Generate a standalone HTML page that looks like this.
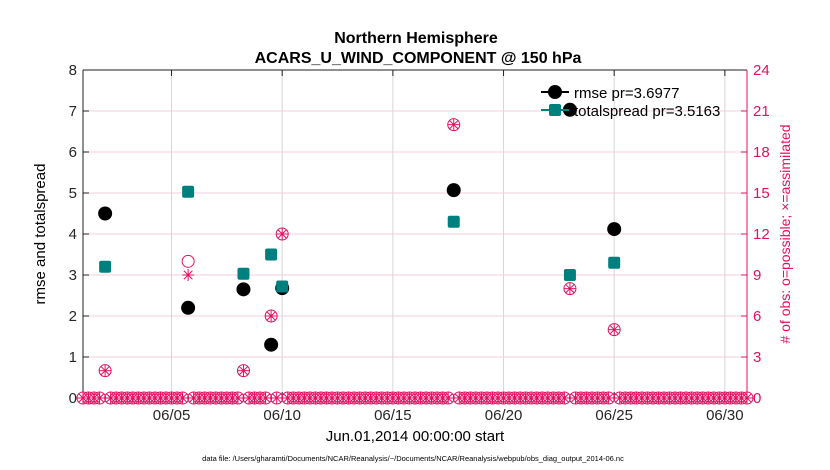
<!DOCTYPE html>
<html><head><meta charset="utf-8"><style>
html,body{margin:0;padding:0;background:#fff;}
svg{display:block;font-family:"Liberation Sans",Arial,sans-serif;}
</style></head><body>
<svg id="chart" width="830" height="470" xmlns="http://www.w3.org/2000/svg">
<rect width="830" height="470" fill="#fff"/>
<text x="416" y="43" text-anchor="middle" font-size="16" font-weight="bold">Northern Hemisphere</text>
<text x="418" y="63" text-anchor="middle" font-size="16" font-weight="bold">ACARS_U_WIND_COMPONENT @ 150 hPa</text>
<text x="415" y="441" text-anchor="middle" font-size="15">Jun.01,2014 00:00:00 start</text>
<text x="413" y="461" text-anchor="middle" font-size="7.5">data file: /Users/gharamti/Documents/NCAR/Reanalysis/~/Documents/NCAR/Reanalysis/webpub/obs_diag_output_2014-06.nc</text>
<text transform="translate(45,234) rotate(-90)" text-anchor="middle" font-size="15">rmse and totalspread</text>
<text transform="translate(790,234) rotate(-90)" text-anchor="middle" font-size="14" fill="#e0115f"># of obs: o=possible; ×=assimilated</text>
<g id="grid"></g><g id="axes"></g><g id="marks"></g><g id="legend"></g>
</svg>
<script>
const xTickDays=[4,9,14,19,24,29];
const xTickLabels=["06/05","06/10","06/15","06/20","06/25","06/30"];
const yLeftTicks=[0,1,2,3,4,5,6,7,8];
const yRightTicks=[0,3,6,9,12,15,18,21,24];
const days=[1.0,4.75,7.25,8.5,9.0,16.75,22.0,24.0];
const rmse=[4.5,2.2,2.65,1.3,2.68,5.07,7.03,4.12];
const spread=[3.2,5.03,3.03,3.5,2.72,4.3,3.0,3.3];
const nPossible=[2,10,2,6,12,20,8,5];
const nAssim=[2,9,2,6,12,20,8,5];
const stepDays=0.25;

const NS="http://www.w3.org/2000/svg";
const L=83,R=747,T=70,B=398;
const xs=d=>L+(R-L)*d/30;
const yl=v=>B-(B-T)*v/8;
const yr=v=>B-(B-T)*v/24;
function el(p,tag,a){const e=document.createElementNS(NS,tag);for(const k in a)e.setAttribute(k,a[k]);p.appendChild(e);return e;}
const grid=document.getElementById('grid'),axes=document.getElementById('axes'),marks=document.getElementById('marks'),leg=document.getElementById('legend');

xTickDays.forEach((d,i)=>{
  const g=el(grid,'line',{x1:xs(d),x2:xs(d),y1:T,y2:B,stroke:'#d6d6d6','stroke-width':1});
  
  
  const tk=el(axes,'line',{x1:xs(d),x2:xs(d),y1:B,y2:B-6,stroke:'#222'});
  
  
  const tk2=el(axes,'line',{x1:xs(d),x2:xs(d),y1:T,y2:T+6,stroke:'#222'});
  
  
  const t=el(axes,'text',{x:xs(d),y:B+22,'text-anchor':'middle','font-size':15,fill:'#262626'});
  t.textContent=xTickLabels[i];
  
  
});
yLeftTicks.forEach(v=>{
  if(v>0&&v<8){const g=el(grid,'line',{x1:L,x2:R,y1:yl(v),y2:yl(v),stroke:'#f5cddd','stroke-width':1});
  
  }
  const tk=el(axes,'line',{x1:L,x2:L+6,y1:yl(v),y2:yl(v),stroke:'#222'});
  
  
  const t=el(axes,'text',{x:L-6,y:yl(v)+5,'text-anchor':'end','font-size':15,fill:'#262626'});
  t.textContent=v;
  
  
});
yRightTicks.forEach(v=>{
  const tk=el(axes,'line',{x1:R,x2:R-6,y1:yr(v),y2:yr(v),stroke:'#e0115f'});
  
  
  const t=el(axes,'text',{x:R+6,y:yr(v)+5,'font-size':15,fill:'#e0115f'});
  t.textContent=v;
  
  
});
const la=el(axes,'line',{x1:L,x2:L,y1:T,y2:B,stroke:'#222'});


const ta=el(axes,'line',{x1:L,x2:R,y1:T,y2:T,stroke:'#222'});


const ra=el(axes,'line',{x1:R,x2:R,y1:T,y2:B,stroke:'#e0115f'});


const ba=el(axes,'line',{x1:L,x2:R,y1:B,y2:B,stroke:'#222'});



function obsCircle(x,y,name){const c=el(marks,'circle',{cx:x,cy:y,r:6,fill:'none',stroke:'#e0115f','stroke-width':1});}
function obsStar(x,y,name){const g=el(marks,'g',{stroke:'#e0115f','stroke-width':1});
  for(let a=0;a<4;a++){const an=a*Math.PI/4;el(g,'line',{x1:x-6*Math.cos(an),y1:y-6*Math.sin(an),x2:x+6*Math.cos(an),y2:y+6*Math.sin(an)});}}
for(let d=0;d<=30+1e-9;d+=stepDays){
  if(days.some(t=>Math.abs(t-d)<1e-6))continue;
  obsCircle(xs(d),yr(0),'obs-possible-zero');
  obsStar(xs(d),yr(0),'obs-assimilated-zero');
}
days.forEach((d,i)=>{
  obsCircle(xs(d),yr(nPossible[i]),'obs-possible-point');
  obsStar(xs(d),yr(nAssim[i]),'obs-assimilated-point');
});
days.forEach((d,i)=>{
  const c=el(marks,'circle',{cx:xs(d),cy:yl(rmse[i]),r:7,fill:'#000'});
  
  
});
days.forEach((d,i)=>{
  const s=el(marks,'rect',{x:xs(d)-6,y:yl(spread[i])-6,width:12,height:12,rx:2,fill:'#007f7f'});
  
  
});
const l1=el(leg,'line',{x1:541,x2:569,y1:92,y2:92,stroke:'#000','stroke-width':2});


const m1=el(leg,'circle',{cx:555,cy:92,r:7,fill:'#000'});


const t1=el(leg,'text',{x:574,y:98,'font-size':15});t1.textContent='rmse pr=3.6977';


const l2=el(leg,'line',{x1:541,x2:569,y1:110,y2:110,stroke:'#007f7f','stroke-width':2});


const m2=el(leg,'rect',{x:549,y:104,width:12,height:12,rx:2,fill:'#007f7f'});


const t2=el(leg,'text',{x:574,y:116,'font-size':15});t2.textContent='totalspread pr=3.5163';


</script>
</body></html>
